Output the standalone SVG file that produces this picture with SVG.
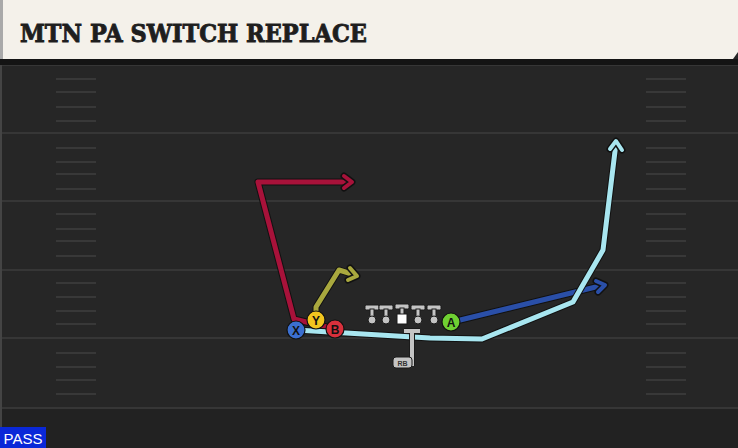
<svg xmlns="http://www.w3.org/2000/svg" width="738" height="448" viewBox="0 0 738 448">
<style>
.yard{stroke:#363636;stroke-width:2}
.hash{stroke:#383838;stroke-width:2}
.rt{fill:none;stroke-linejoin:round;stroke-linecap:round}
.ol{fill:none;stroke:#111;stroke-width:7;stroke-linejoin:round;stroke-linecap:round}
.pl{stroke:#111;stroke-width:1.2}
.lbl{font-family:"Liberation Sans",Arial,sans-serif;font-weight:bold;font-size:12px;text-anchor:middle;fill:#111}
.ln{fill:#c4c4c4;stroke:#1a1a1a;stroke-width:1}
</style>
<rect width="738" height="448" fill="#262626"/>
<rect x="0" y="408" width="738" height="40" fill="#222"/>
<g id="field">
<line class="yard" x1="0" y1="65" x2="738" y2="65"/>
<line class="yard" x1="0" y1="133" x2="738" y2="133"/>
<line class="yard" x1="0" y1="201" x2="738" y2="201"/>
<line class="yard" x1="0" y1="270" x2="738" y2="270"/>
<line class="yard" x1="0" y1="338" x2="738" y2="338"/>
<line class="yard" x1="0" y1="408" x2="738" y2="408"/>
<g class="hash">
<path d="M56 79H96M56 92H96M56 107H96M56 121H96M56 148H96M56 162H96M56 174H96M56 189H96M56 214H96M56 229H96M56 241H96M56 256H96M56 283H96M56 297H96M56 311H96M56 324H96M56 353H96M56 367H96M56 380H96M56 394H96"/>
<path d="M646 79H686M646 92H686M646 107H686M646 121H686M646 148H686M646 162H686M646 174H686M646 189H686M646 214H686M646 229H686M646 241H686M646 256H686M646 283H686M646 297H686M646 311H686M646 324H686M646 353H686M646 367H686M646 380H686M646 394H686"/>
</g>
<rect x="0" y="60" width="2" height="388" fill="#444"/>
</g>
<g id="header">
<rect x="0" y="59" width="738" height="6" fill="#141414"/>
<path d="M0 0H738V52L733 59H0Z" fill="#f4f1ea"/>
<rect x="0" y="0" width="3" height="59" fill="#a9a9a9"/>
<text x="20" y="42" font-family="'DejaVu Serif',serif" font-weight="bold" font-size="25" fill="#1e1e1e" stroke="#1e1e1e" stroke-width="0.9" textLength="347" lengthAdjust="spacingAndGlyphs">MTN PA SWITCH REPLACE</text>
</g>
<g id="connectors">
<path class="ol" d="M335 329L294 319L258 182H350"/>
<path class="rt" stroke="#a8123a" stroke-width="5" d="M335 329L294 319L258 182H350"/>
<path class="ol" d="M344 176L352 182L344 188"/>
<path class="rt" stroke="#a8123a" stroke-width="4" d="M344 176L352 182L344 188"/>
<path class="ol" d="M316 320V307L339 270L355 275"/>
<path class="rt" stroke="#a9a83e" stroke-width="5" d="M316 320V307L339 270L355 275"/>
<path class="ol" d="M350 268L357 276L348 280"/>
<path class="rt" stroke="#a9a83e" stroke-width="4" d="M350 268L357 276L348 280"/>
<path class="ol" d="M452 322L604 285"/>
<path class="rt" stroke="#2a4fa8" stroke-width="5" d="M452 322L604 285"/>
<path class="ol" d="M596 281L605 285L598 292"/>
<path class="rt" stroke="#2a4fa8" stroke-width="4" d="M596 281L605 285L598 292"/>
<path class="ol" d="M296 330L430 338L482 339L573 302L603 250L616 143"/>
<path class="rt" stroke="#a8e6f0" stroke-width="5" d="M296 330L430 338L482 339L573 302L603 250L616 143"/>
<path class="ol" d="M610 149L616 141L622 150"/>
<path class="rt" stroke="#a8e6f0" stroke-width="4" d="M610 149L616 141L622 150"/>
<path fill="none" stroke="#1a1a1a" stroke-width="6" d="M412 331V366M404 331H420"/>
<path fill="none" stroke="#c4c4c4" stroke-width="4" d="M412 331V366M404 331H420"/>
</g>
<g id="line">
<g id="lt"><rect class="ln" x="365" y="305" width="14" height="5" rx="1.5"/><rect class="ln" x="370" y="309" width="4" height="8"/><circle class="ln" cx="372" cy="320" r="4"/></g>
<g id="lg"><rect class="ln" x="379" y="305" width="14" height="5" rx="1.5"/><rect class="ln" x="384" y="309" width="4" height="8"/><circle class="ln" cx="386" cy="320" r="4"/></g>
<g id="c"><rect class="ln" x="395" y="304" width="14" height="5" rx="1.5"/><rect class="ln" x="400" y="308" width="4" height="7"/><rect x="397" y="314" width="10" height="10" fill="#fff" stroke="#1a1a1a" stroke-width="1"/></g>
<g id="rg"><rect class="ln" x="411" y="305" width="14" height="5" rx="1.5"/><rect class="ln" x="416" y="309" width="4" height="8"/><circle class="ln" cx="418" cy="320" r="4"/></g>
<g id="rt"><rect class="ln" x="427" y="305" width="14" height="5" rx="1.5"/><rect class="ln" x="432" y="309" width="4" height="8"/><circle class="ln" cx="434" cy="320" r="4"/></g>
</g>
<g id="rb"><rect x="393" y="357" width="19" height="11" rx="3" fill="#c4c4c4" stroke="#1a1a1a" stroke-width="1"/><text x="402.5" y="365.5" font-family="'Liberation Sans',Arial,sans-serif" font-size="7" font-weight="bold" text-anchor="middle" fill="#333">RB</text></g>
<g id="y"><circle class="pl" cx="316" cy="320" r="9" fill="#f2c61f"/><text class="lbl" x="316" y="324.5">Y</text></g>
<g id="x"><circle class="pl" cx="296" cy="330" r="9" fill="#3b6fd0"/><text class="lbl" x="296" y="334.5">X</text></g>
<g id="b"><circle class="pl" cx="335" cy="329" r="9" fill="#d8303c"/><text class="lbl" x="335" y="333.5">B</text></g>
<g id="a"><circle class="pl" cx="451" cy="322" r="9" fill="#6fd032"/><text class="lbl" x="451" y="326.5">A</text></g>
<g id="pass"><rect x="0" y="427" width="46" height="21" fill="#0a28d8"/><text x="23" y="444" font-family="'Liberation Sans',Arial,sans-serif" font-size="15" fill="#fff" text-anchor="middle">PASS</text></g>
</svg>
